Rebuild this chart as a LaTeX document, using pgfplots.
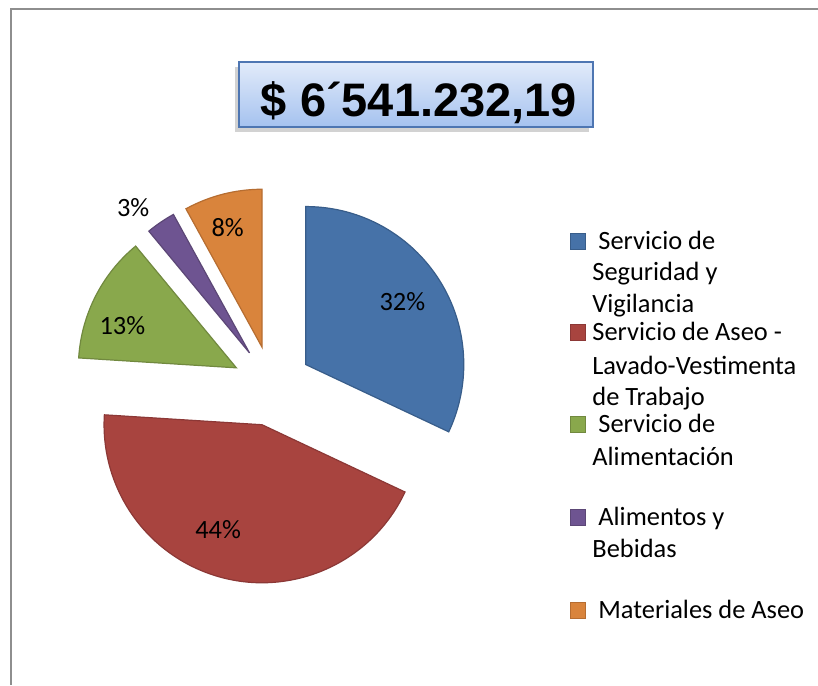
\documentclass[border=0pt]{standalone}
\usepackage{fontspec}
\setmainfont{Carlito}
\newfontfamily\arial{Liberation Sans}
\usepackage{pgfplots}
\pgfplotsset{compat=1.18}
\usepackage{pgfplotstable}

% slice fills and borders (Excel 2007 palette)
\definecolor{pc0}{HTML}{4672A8}
\definecolor{pc1}{HTML}{A8443F}
\definecolor{pc2}{HTML}{89A84C}
\definecolor{pc3}{HTML}{6E5491}
\definecolor{pc4}{HTML}{D9843C}
\definecolor{pd0}{HTML}{385D8A}
\definecolor{pd1}{HTML}{8C3836}
\definecolor{pd2}{HTML}{71893F}
\definecolor{pd3}{HTML}{5C4776}
\definecolor{pd4}{HTML}{B66D31}
\definecolor{frame}{HTML}{8E8E8E}

% pct = share, dist/off = label placement
\pgfplotstableread{
pct dist off
32 0.73 0.7
44 0.72 -8.3
13 0.77 6.5
3  1.18 4.4
8  0.79 1.6
}\piedata

\newcommand\lblfont{\fontsize{13.2pt}{16pt}\selectfont}

\begin{document}
\begin{tikzpicture}
\def\pcum{0}
\pgfplotsforeachungrouped \i in {0,1,2,3,4}{%
  \pgfplotstablegetelem{\i}{pct}\of\piedata \let\pv\pgfplotsretval
  \pgfplotstablegetelem{\i}{dist}\of\piedata \let\pdist\pgfplotsretval
  \pgfplotstablegetelem{\i}{off}\of\piedata \let\poff\pgfplotsretval
  \pgfmathsetmacro\aS{90-3.6*\pcum}
  \pgfmathsetmacro\pcum{\pcum+\pv}
  \pgfmathsetmacro\aE{90-3.6*\pcum}
  \pgfmathsetmacro\aM{(\aS+\aE)/2}
  \pgfmathsetmacro\cx{272+40*cos(\aM)}
  \pgfmathsetmacro\cy{-386+40*sin(\aM)}
  \pgfmathsetmacro\sx{\cx+158*cos(\aS)}
  \pgfmathsetmacro\sy{\cy+158*sin(\aS)}
  \pgfmathsetmacro\lx{\cx+158*\pdist*cos(\aM+\poff)}
  \pgfmathsetmacro\ly{\cy+158*\pdist*sin(\aM+\poff)}
  \expandafter\xdef\csname pS\i\endcsname{\aS}
  \expandafter\xdef\csname pE\i\endcsname{\aE}
  \expandafter\xdef\csname pX\i\endcsname{\cx}
  \expandafter\xdef\csname pY\i\endcsname{\cy}
  \expandafter\xdef\csname pSX\i\endcsname{\sx}
  \expandafter\xdef\csname pSY\i\endcsname{\sy}
  \expandafter\xdef\csname pLX\i\endcsname{\lx}
  \expandafter\xdef\csname pLY\i\endcsname{\ly}
  \expandafter\xdef\csname pT\i\endcsname{\pv}
}
\begin{axis}[
  scale only axis, width=409pt, height=342.5pt,
  xmin=0, xmax=818, ymin=-685, ymax=0,
  hide axis, clip=false,
]
\path (axis cs:0,0) rectangle (axis cs:818,-685);
\fill[frame] (axis cs:10.2,-685) rectangle (axis cs:11.8,-8.2);
\fill[frame] (axis cs:10.2,-8.2) rectangle (axis cs:818,-9.8);

% pie slices
\pgfplotsinvokeforeach{0,1,2,3,4}{%
  \filldraw[fill=pc#1, draw=pd#1, line width=0.6pt]
    (axis cs:\csname pX#1\endcsname,\csname pY#1\endcsname)
    -- (axis cs:\csname pSX#1\endcsname,\csname pSY#1\endcsname)
    arc[start angle=\csname pS#1\endcsname, end angle=\csname pE#1\endcsname, radius=79pt]
    -- cycle;
  \node[font=\lblfont, inner sep=0pt] at (axis cs:\csname pLX#1\endcsname,\csname pLY#1\endcsname)
    {\csname pT#1\endcsname\%};
}

% title box
\fill[gray!35] (axis cs:235,-67) rectangle (axis cs:589,-132);
\shadedraw[top color={rgb,255:red,226;green,235;blue,250}, bottom color={rgb,255:red,165;green,194;blue,239},
  draw={rgb,255:red,78;green,118;blue,178}, line width=0.6pt]
  (axis cs:239,-62) rectangle (axis cs:593,-127);
\node[anchor=base, inner sep=0pt, font=\arial\bfseries\fontsize{23.5pt}{28pt}\selectfont]
  at (axis cs:419,-117) {\$ 6´541.232,19};

% legend
\filldraw[fill=pc0, draw=pd0, line width=0.5pt] (axis cs:570,-234) rectangle (axis cs:585,-250);
\filldraw[fill=pc1, draw=pd1, line width=0.5pt] (axis cs:570,-325) rectangle (axis cs:585,-341);
\filldraw[fill=pc2, draw=pd2, line width=0.5pt] (axis cs:570,-417) rectangle (axis cs:585,-433);
\filldraw[fill=pc3, draw=pd3, line width=0.5pt] (axis cs:570,-510) rectangle (axis cs:585,-526);
\filldraw[fill=pc4, draw=pd4, line width=0.5pt] (axis cs:570,-602) rectangle (axis cs:585,-618);
\begin{scope}[every node/.style={anchor=base west, inner sep=0pt, font=\lblfont}]
\node at (axis cs:598,-250) {Servicio de};
\node at (axis cs:592,-281) {Seguridad y};
\node at (axis cs:592,-313) {Vigilancia};
\node at (axis cs:592,-341) {Servicio de Aseo -};
\node at (axis cs:592,-375) {Lavado-Vestimenta};
\node at (axis cs:592,-406) {de Trabajo};
\node at (axis cs:598,-433) {Servicio de};
\node at (axis cs:592,-466) {Alimentación};
\node at (axis cs:598,-526) {Alimentos y};
\node at (axis cs:592,-558) {Bebidas};
\node at (axis cs:598,-618) {Materiales de Aseo};
\end{scope}
\end{axis}
\end{tikzpicture}
\end{document}
